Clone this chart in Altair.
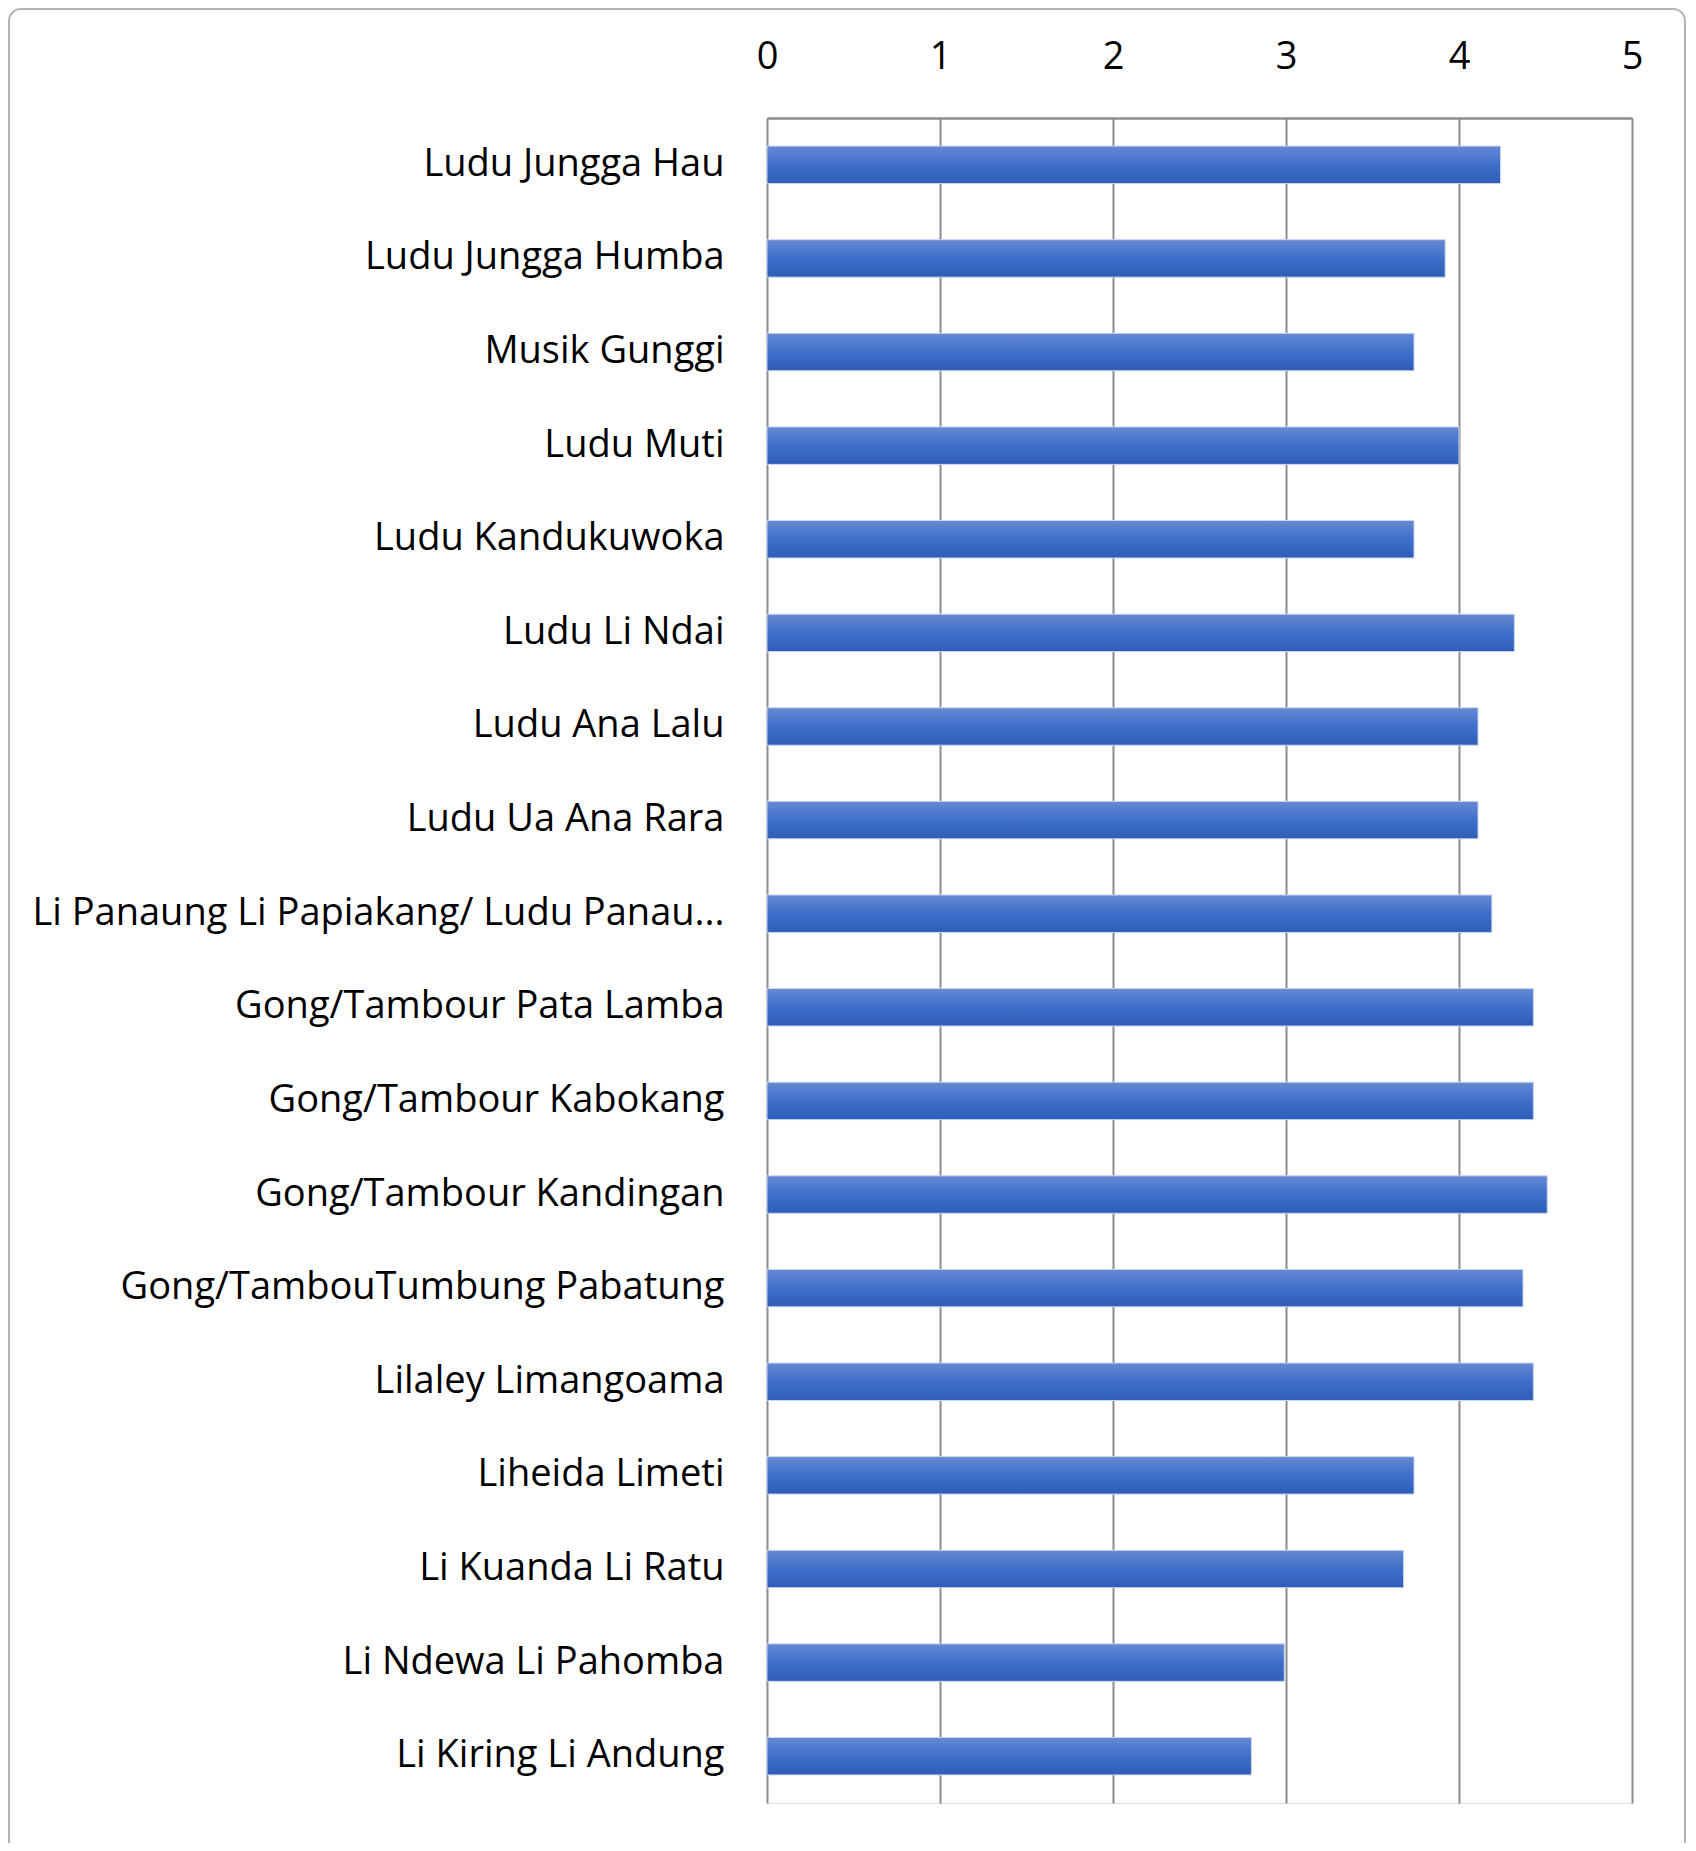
import altair as alt
import pandas as pd

categories = [
    "Ludu Jungga Hau",
    "Ludu Jungga Humba",
    "Musik Gunggi",
    "Ludu Muti",
    "Ludu Kandukuwoka",
    "Ludu Li Ndai",
    "Ludu Ana Lalu",
    "Ludu Ua Ana Rara",
    "Li Panaung Li Papiakang/ Ludu Panau...",
    "Gong/Tambour Pata Lamba",
    "Gong/Tambour Kabokang",
    "Gong/Tambour Kandingan",
    "Gong/TambouTumbung Pabatung",
    "Lilaley Limangoama",
    "Liheida Limeti",
    "Li Kuanda Li Ratu",
    "Li Ndewa Li Pahomba",
    "Li Kiring Li Andung",
]
values = [4.24, 3.92, 3.74, 4.0, 3.74, 4.32, 4.11, 4.11, 4.19,
          4.43, 4.43, 4.51, 4.37, 4.43, 3.74, 3.68, 2.99, 2.80]
x_ticks = [0, 1, 2, 3, 4, 5]

df = pd.DataFrame({"cat": categories, "val": values})

FONT = "Open Sans"
PLOT_W = 865
PLOT_H = 1685

bars = alt.Chart(df).mark_bar(
    color=alt.Gradient(
        gradient="linear",
        stops=[
            alt.GradientStop(color="#6689d3", offset=0),
            alt.GradientStop(color="#3e6fca", offset=0.5),
            alt.GradientStop(color="#2d5db6", offset=1),
        ],
        x1=0, x2=0, y1=0, y2=1,
    ),
    stroke="#c9d6ee",
    strokeWidth=1,
).encode(
    y=alt.Y("cat:N", sort=categories,
            scale=alt.Scale(paddingInner=0.6, paddingOuter=0.3),
            axis=alt.Axis(title=None, domain=False, ticks=False,
                          labelFontSize=38, labelFont=FONT, labelColor="#000000",
                          labelPadding=43, labelLimit=900)),
    x=alt.X("val:Q", scale=alt.Scale(domain=[0, 5], nice=False),
            axis=alt.Axis(orient="top", title=None, values=x_ticks,
                          labelFontSize=38, labelFont=FONT, labelColor="#000000",
                          labelPadding=42, labelFlush=False, ticks=False,
                          domain=True, domainColor="#8c8c8c", domainWidth=2.5,
                          grid=True, gridColor="#8c8c8c", gridWidth=2)),
)

frame = alt.Chart(pd.DataFrame({"a": [0]})).mark_rect(
    fill="transparent", stroke="#b3b3b3", strokeWidth=2, cornerRadius=12
).encode(
    x=alt.value(-758), x2=alt.value(918),
    y=alt.value(-109), y2=alt.value(PLOT_H + 200),
)

chart = alt.layer(bars, frame).properties(
    width=PLOT_W, height=PLOT_H,
    autosize=alt.AutoSizeParams(type="none"),
    padding={"left": 759, "top": 110, "right": 56, "bottom": 40},
).configure_view(stroke=None).configure(background="white")

chart.save("out.html", embed_options={"renderer": "svg", "actions": False})
